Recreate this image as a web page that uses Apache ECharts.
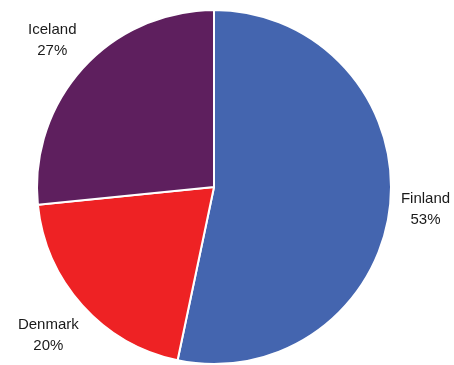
<!DOCTYPE html>
<html><head><meta charset="utf-8">
<script src="https://cdn.jsdelivr.net/npm/echarts@6/dist/echarts.min.js"></script>
<style>html,body{margin:0;padding:0;background:#fff}#c{width:454px;height:365px}</style>
</head><body><div id="c"></div>
<script>
var categories = ['Finland', 'Denmark', 'Iceland'];
var values = [53.3, 20.1, 26.6];
var colors = ['#4465AF', '#EE2224', '#5E1F5E'];

var CX = 214, CY = 187, R = 177, GAP = 9;
var total = values.reduce(function(a,b){return a+b;},0);
function midAngle(i){
  var s = 0; for (var k=0;k<i;k++) s += values[k];
  return (s + values[i]/2) / total * 2 * Math.PI;
}
var chart = echarts.init(document.getElementById('c'));
chart.setOption({
  animation: false,
  series: [{
    type: 'pie',
    center: [CX, CY],
    radius: R,
    startAngle: 90,
    clockwise: true,
    percentPrecision: 0,
    data: categories.map(function(c,i){return {name:c, value:values[i], itemStyle:{color:colors[i]}};}),
    itemStyle: {borderColor:'#fff', borderWidth:2},
    label: {
      show: true, position: 'inside',
      formatter: '{b}\n{d}%',
      fontFamily: 'Liberation Sans, Arial, sans-serif',
      fontSize: 15, lineHeight: 21, color: '#1a1a1a', align: 'center'
    },
    labelLine: {show: false},
    labelLayout: function(p){
      var a = midAngle(p.dataIndex);
      var sx = Math.sin(a), cy = Math.cos(a);
      var w = p.labelRect.width, h = p.labelRect.height;
      var ext = w/2*Math.abs(sx) + h/2*Math.abs(cy);
      var r = R + GAP + ext;
      return {x: CX + r*sx, y: CY - r*cy, align:'center', verticalAlign:'middle', hideOverlap:false};
    }
  }]
});
</script></body></html>
